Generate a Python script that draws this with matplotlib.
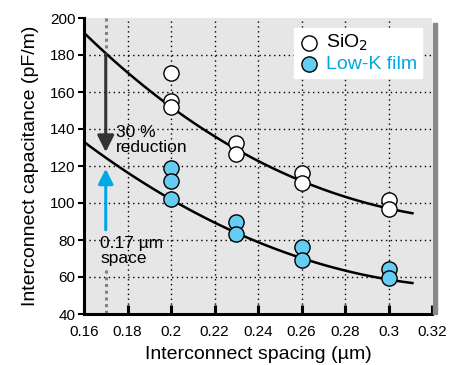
import numpy as np
import matplotlib.pyplot as plt
from matplotlib.patches import Rectangle

plt.rcParams['font.family'] = ['Liberation Sans', 'DejaVu Sans']

# measured points
sio2_x = [0.2, 0.2, 0.2, 0.23, 0.23, 0.26, 0.26, 0.3, 0.3]
sio2_y = [170.5, 155, 152, 132.5, 126.5, 116, 111, 101.5, 96.5]
lowk_x = [0.2, 0.2, 0.2, 0.23, 0.23, 0.26, 0.26, 0.3, 0.3]
lowk_y = [119, 112, 102, 89.5, 83, 76, 69, 64.5, 59.5]

# trend curves
fit_x = [0.16, 0.2, 0.23, 0.26, 0.3, 0.311]
sio2_fit = [192, 152, 129, 112, 97, 94.5]
lowk_fit = [133, 102, 84, 70, 59, 56.5]

xticks = [0.16, 0.18, 0.2, 0.22, 0.24, 0.26, 0.28, 0.3, 0.32]
yticks = [40, 60, 80, 100, 120, 140, 160, 180, 200]

blue = '#00a9e6'
fill_blue = '#66cdf2'

fig = plt.figure(figsize=(4.59, 3.65), dpi=100)
ax = fig.add_axes([84/459, 1-314/365, 348/459, 296/365])
ax.set_facecolor('#e6e6e6')

# shadow on the right edge
fig.patches.append(Rectangle((433/459, 1-314/365), 4/459, 291/365,
                             transform=fig.transFigure, color='#888888', zorder=0))

ax.set_xlim(0.16, 0.32)
ax.set_ylim(40, 200)
ax.set_xticks(xticks)
ax.set_xticklabels(['0.16', '0.18', '0.2', '0.22', '0.24', '0.26', '0.28', '0.3', '0.32'])
ax.set_yticks(yticks)
for v in xticks[1:-1]:
    ax.axvline(v, color='black', lw=1, ls=(0, (1, 2.5)), zorder=1)
for v in yticks[1:-1]:
    ax.axhline(v, color='black', lw=1, ls=(0, (1, 2.5)), zorder=1)

for s in ['top', 'right']:
    ax.spines[s].set_visible(False)
for s in ['left', 'bottom']:
    ax.spines[s].set_linewidth(2.2)
ax.tick_params(axis='x', direction='in', length=6.5, width=2.2, labelsize=11, pad=8)
ax.tick_params(axis='y', direction='out', length=4, width=1.5, labelsize=11, pad=2)

xs = np.linspace(0.16, 0.311, 100)
ax.plot(xs, np.polyval(np.polyfit(fit_x, sio2_fit, 3), xs), color='black', lw=1.8, zorder=2)
ax.plot(xs, np.polyval(np.polyfit(fit_x, lowk_fit, 3), xs), color='black', lw=1.8, zorder=2)

ax.scatter(sio2_x, sio2_y, s=120, facecolor='white', edgecolor='black', lw=1, zorder=3, label='SiO$_{2}$')
ax.scatter(lowk_x, lowk_y, s=120, facecolor=fill_blue, edgecolor='black', lw=1, zorder=3, label='Low-K film')

# 0.17 um marker
ax.plot([0.17, 0.17], [200, 182], color='#808080', lw=2.2, ls=(0, (1, 1.2)), zorder=2)
ax.plot([0.17, 0.17], [64, 40], color='#808080', lw=2.2, ls=(0, (1, 1.2)), zorder=2)
ax.annotate('', xy=(0.17, 126), xytext=(0.17, 182),
            arrowprops=dict(arrowstyle='-|>,head_width=0.5,head_length=1.0', color='#333333', lw=2.2))
ax.annotate('', xy=(0.17, 120), xytext=(0.17, 84),
            arrowprops=dict(arrowstyle='-|>,head_width=0.45,head_length=0.9', color=blue, lw=2.2))
ax.text(0.1745, 134, '30 %\nreduction', fontsize=12.5, va='center', ha='left', linespacing=0.95)
ax.text(0.1675, 74, '0.17 µm\nspace', fontsize=12.5, va='center', ha='left', linespacing=0.95)

leg = ax.legend(loc='upper right', bbox_to_anchor=(0.972, 0.967), fontsize=14, frameon=True,
                handletextpad=0.4, borderpad=0.25, labelspacing=0.15, handlelength=1.0,
                fancybox=False, borderaxespad=0)
leg.get_frame().set_edgecolor('white')
leg.get_frame().set_facecolor('white')
leg.get_frame().set_alpha(1)
leg.get_texts()[1].set_color(blue)

ax.set_xlabel('Interconnect spacing (µm)', fontsize=14, labelpad=5)
ax.set_ylabel('Interconnect capacitance (pF/m)', fontsize=14, labelpad=8)

fig.savefig('out.png', dpi=100)
